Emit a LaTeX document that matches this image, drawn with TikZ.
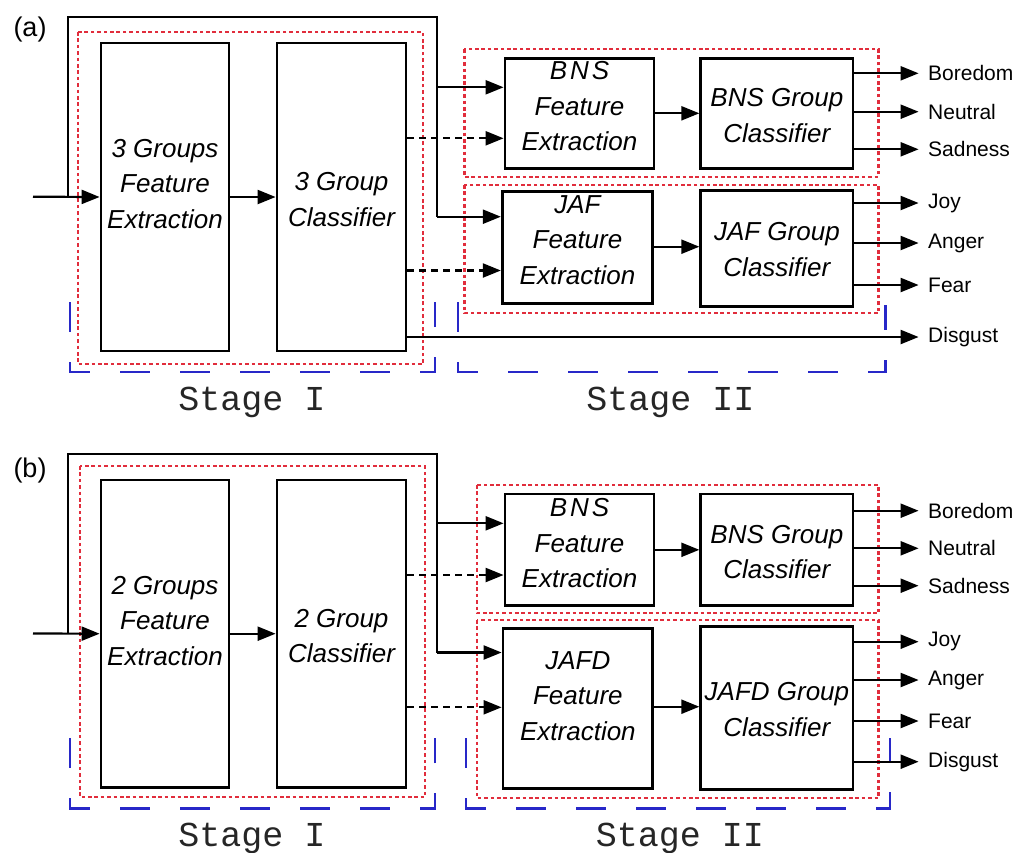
\documentclass[tikz,border=0pt]{standalone}
\usepackage{fontspec}
\setmainfont{Liberation Sans}
\newfontfamily\stagefont{Liberation Mono}
\usetikzlibrary{arrows.meta}
\definecolor{dotred}{RGB}{225,45,60}
\definecolor{dashblue}{RGB}{40,40,200}
\begin{document}
\begin{tikzpicture}[x=1pt,y=-1pt,
  box/.style={draw, line width=2.8pt, inner sep=0pt, fill=white},
  boxtext/.style={font=\itshape\fontsize{26}{35.5}\selectfont, align=center, inner sep=0pt},
  conn/.style={line width=2.2pt},
  arr/.style={conn, -{Triangle[length=18pt,width=14pt]}},
  dasharr/.style={arr, dash pattern=on 7pt off 5pt},
  reddot/.style={draw=dotred, line width=2.3pt, dash pattern=on 3.6pt off 2.8pt},
  bluebr/.style={draw=dashblue, line width=2.4pt, dash pattern=on 30pt off 30pt},
  outlbl/.style={anchor=west, inner sep=0pt, font=\fontsize{21}{24}\selectfont},
  stagelbl/.style={anchor=base, inner sep=0pt, text=black!85, font=\stagefont\fontsize{35}{40}\selectfont},
  panel/.style={inner sep=0pt, font=\fontsize{27}{30}\selectfont},
  tipgap/.style={shorten >=9.4pt}
]
\useasboundingbox (0,0) rectangle (1017,852);

%================ panel (a) =================
\node[panel] (pa) at (30,30) {(a)};

% containers
\draw[reddot] (78,32) rectangle (423,364);
\draw[reddot] (464.4,49.3) rectangle (878.5,176.7);
\draw[reddot] (464.4,185) rectangle (878.5,313);
\draw[bluebr] (70,302) -- (70,372) -- (435,372) -- (435,302);
\draw[bluebr] (458,302) -- (458,372) -- (885.6,372) -- (885.6,305);

% boxes
\node[box, minimum width=128pt, minimum height=308pt] (a1) at (165,197) {};
\node[box, minimum width=129pt, minimum height=308pt] (a2) at (341.5,197) {};
\node[box, minimum width=149pt, minimum height=110pt] (abnsfe) at (579.5,113.3) {};
\node[box, minimum width=152.3pt, minimum height=110pt] (abnscl) at (776.9,113.3) {};
\node[box, minimum width=150.5pt, minimum height=111.6pt] (ajaffe) at (577.5,247.5) {};
\node[box, minimum width=152.3pt, minimum height=116pt] (ajafcl) at (776.9,248.7) {};

\node[boxtext] (ta1) at ([yshift=13pt]a1.center) {3 Groups\\Feature\\Extraction};
\node[boxtext] (ta2) at ([yshift=-2.6pt]a2.center) {3 Group\\Classifier};
\node[boxtext] (tabnsfe) at ([yshift=6.8pt]abnsfe.center) {B\kern3ptN\kern3ptS\\Feature\\Extraction};
\node[boxtext] (tabnscl) at ([yshift=-2pt]abnscl.center) {BNS Group\\Classifier};
\node[boxtext] (tajaffe) at ([yshift=7.6pt]ajaffe.center) {JAF\\Feature\\Extraction};
\node[boxtext] (tajafcl) at ([yshift=-0.9pt]ajafcl.center) {JAF Group\\Classifier};

% coordinates
\coordinate (ainput) at (33,196.7);
\coordinate (atl) at (67.7,17);
\coordinate (atr) at (436.7,17);
\coordinate (abns) at (0,87.3);
\coordinate (ajaf) at (0,216.7);
\coordinate (adb) at (0,138.3);
\coordinate (adj) at (0,270.5);
\coordinate (ajm) at (0,246.7);

% connectors
\draw[arr] (ainput) -- (a1.west);
\draw[conn] (atl |- ainput) -- (atl) -- (atr) -- (atr |- ajaf);
\draw[arr] (atr |- ajaf) -- (ajaffe.west |- ajaf);
\draw[arr] (atr |- abns) -- (abnsfe.west |- abns);
\draw[arr] (a1.east) -- (a2.west);
\draw[dasharr] (a2.east |- adb) -- (abnsfe.west |- adb);
\draw[dasharr] (a2.east |- adj) -- (ajaffe.west |- adj);
\draw[arr] (abnsfe.east) -- (abnscl.west);
\draw[arr] (ajaffe.east |- ajm) -- (ajafcl.west |- ajm);

% outputs
\node[outlbl] (aboredom) at (928,73.3) {Boredom};
\node[outlbl] (aneutral) at (928,111.7) {Neutral};
\node[outlbl] (asadness) at (928,149.3) {Sadness};
\node[outlbl] (ajoy) at (928,203) {Joy};
\node[outlbl] (aanger) at (928,243) {Anger};
\node[outlbl] (afear) at (928,285) {Fear};
\node[outlbl] (adisgust) at (928,337) {Disgust};
\foreach \n in {aboredom,aneutral,asadness}
  \draw[arr,tipgap] (abnscl.east |- \n.west) -- (\n.west);
\foreach \n in {ajoy,aanger,afear}
  \draw[arr,tipgap] (ajafcl.east |- \n.west) -- (\n.west);
\draw[arr,tipgap] (a2.east |- adisgust.west) -- (adisgust.west);

\node[stagelbl] (asI) at (252,410) {Stage I};
\node[stagelbl] (asII) at (670.5,410) {Stage II};

%================ panel (b) =================
\node[panel] (pb) at (30,471) {(b)};

\draw[reddot] (80,466) rectangle (425,797.3);
\draw[reddot] (476.8,485) rectangle (878.5,613.3);
\draw[reddot] (476.8,620) rectangle (878.5,798.3);
\draw[bluebr] (70,738.3) -- (70,808.3) -- (435,808.3) -- (435,738.3);
\draw[bluebr] (466,738.3) -- (466,808.3) -- (889.8,808.3) -- (889.8,738.3);

\node[box, minimum width=128pt, minimum height=307.3pt] (b1) at (165,633.7) {};
\node[box, minimum width=129pt, minimum height=307.3pt] (b2) at (341.5,633.7) {};
\node[box, minimum width=149pt, minimum height=111.7pt] (bbnsfe) at (579.5,549.8) {};
\node[box, minimum width=152.3pt, minimum height=111.7pt] (bbnscl) at (776.9,549.8) {};
\node[box, minimum width=149.8pt, minimum height=160pt] (bjafdfe) at (577.9,708.3) {};
\node[box, minimum width=152.3pt, minimum height=162.6pt] (bjafdcl) at (776.9,708) {};

\node[boxtext] (tb1) at ([yshift=12.8pt]b1.center) {2 Groups\\Feature\\Extraction};
\node[boxtext] (tb2) at ([yshift=-2.5pt]b2.center) {2 Group\\Classifier};
\node[boxtext] (tbbnsfe) at ([yshift=6.3pt]bbnsfe.center) {B\kern3ptN\kern3ptS\\Feature\\Extraction};
\node[boxtext] (tbbnscl) at ([yshift=-2.2pt]bbnscl.center) {BNS Group\\Classifier};
\node[boxtext] (tbjafdfe) at ([yshift=12.6pt]bjafdfe.center) {JAFD\\Feature\\Extraction};
\node[boxtext] (tbjafdcl) at ([yshift=-1.6pt]bjafdcl.center) {JAFD Group\\Classifier};

\coordinate (binput) at (33,633.5);
\coordinate (btl) at (67.7,454);
\coordinate (btr) at (436.7,454);
\coordinate (bbns) at (0,523.3);
\coordinate (bjafd) at (0,652.5);
\coordinate (bdb) at (0,575);
\coordinate (bdj) at (0,707.3);
\coordinate (bjm) at (0,706.7);

\draw[arr] (binput) -- (b1.west);
\draw[conn] (btl |- binput) -- (btl) -- (btr) -- (btr |- bjafd);
\draw[arr] (btr |- bjafd) -- (bjafdfe.west |- bjafd);
\draw[arr] (btr |- bbns) -- (bbnsfe.west |- bbns);
\draw[arr] (b1.east) -- (b2.west);
\draw[dasharr] (b2.east |- bdb) -- (bbnsfe.west |- bdb);
\draw[dasharr] (b2.east |- bdj) -- (bjafdfe.west |- bdj);
\draw[arr] (bbnsfe.east) -- (bbnscl.west);
\draw[arr] (bjafdfe.east |- bjm) -- (bjafdcl.west |- bjm);

\node[outlbl] (bboredom) at (928,510.7) {Boredom};
\node[outlbl] (bneutral) at (928,548.3) {Neutral};
\node[outlbl] (bsadness) at (928,585.7) {Sadness};
\node[outlbl] (bjoy) at (928,641.7) {Joy};
\node[outlbl] (banger) at (928,680) {Anger};
\node[outlbl] (bfear) at (928,721) {Fear};
\node[outlbl] (bdisgust) at (928,761.7) {Disgust};
\foreach \n in {bboredom,bneutral,bsadness}
  \draw[arr,tipgap] (bbnscl.east |- \n.west) -- (\n.west);
\foreach \n in {bjoy,banger,bfear,bdisgust}
  \draw[arr,tipgap] (bjafdcl.east |- \n.west) -- (\n.west);

\node[stagelbl] (bsI) at (252,846.7) {Stage I};
\node[stagelbl] (bsII) at (680,846.7) {Stage II};
\end{tikzpicture}
\end{document}
